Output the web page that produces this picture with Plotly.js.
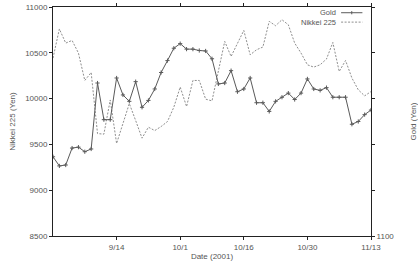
<!DOCTYPE html>
<html>
<head>
<meta charset="utf-8">
<script src="https://cdn.plot.ly/plotly-3.0.1.min.js"></script>
<style>html,body{margin:0;padding:0;background:#fff;}#chart{width:418px;height:261px;}</style>
</head>
<body>
<div id="chart"></div>
<script>
// Trading days (Tokyo), 2001
var tradingDays = ['8/31','9/3','9/4','9/5','9/6','9/7','9/10','9/11','9/12','9/13',
  '9/14','9/17','9/18','9/19','9/20','9/21','9/25','9/26','9/27','9/28',
  '10/1','10/2','10/3','10/4','10/5','10/9','10/10','10/11','10/12','10/15',
  '10/16','10/17','10/18','10/19','10/22','10/23','10/24','10/25','10/26','10/29',
  '10/30','10/31','11/1','11/2','11/5','11/6','11/7','11/8','11/9','11/12','11/13'];

var nikkei = [10442,10760,10606,10635,10497,10198,10285,9618,9612,9985,
  9510,9730,9946,9760,9568,9688,9651,9695,9750,9907,
  10126,9913,10198,10198,9994,9975,10300,10624,10460,10605,
  10744,10478,10533,10563,10843,10796,10861,10806,10606,10497,
  10369,10344,10369,10432,10613,10296,10416,10224,10096,10030,10077];

var gold = [1117.3,1115.3,1115.5,1119.2,1119.4,1118.4,1119.0,1133.4,1125.4,1125.4,
  1134.5,1130.8,1129.4,1133.7,1128.1,1129.6,1132.1,1135.7,1138.3,1141.0,
  1142.0,1140.8,1140.8,1140.5,1140.4,1138.7,1133.2,1133.4,1136.1,1131.5,
  1132.1,1134.5,1129.1,1129.1,1127.2,1129.4,1130.3,1131.2,1129.8,1131.2,
  1134.3,1132.1,1131.8,1132.4,1130.3,1130.3,1130.3,1124.4,1125.0,1126.5,1127.5];

var xTickDays = ['9/14','10/1','10/16','10/30','11/13'];
var nikkeiTicks = [8500,9000,9500,10000,10500,11000];
var nikkeiTickText = ['8500','9000','9500','10000','10500','11000'];
var goldTicks = [1100,1110,1120,1130,1140,1150];
var goldTickText = ['1100','','','','',''];

var seriesNames = ['Gold','Nikkei 225'];

var txt = '#555555';
var axc = '#222222';
var fnt = {family:'Liberation Sans, Arial, sans-serif', size:8, color:txt};
var lfnt = {family:'Liberation Sans, Arial, sans-serif', size:7.5, color:txt};
var goldColor = '#5a5a5a';
var nikColor = '#8e8e8e';

var traces = [
  {x: tradingDays, y: gold, yaxis:'y2', name: seriesNames[0], type:'scatter', mode:'lines+markers',
   line:{color:goldColor, width:1},
   marker:{symbol:'cross-thin', size:3, line:{color:goldColor, width:1}}, showlegend:false},
  {x: tradingDays, y: nikkei, name: seriesNames[1], type:'scatter', mode:'lines',
   line:{color:nikColor, width:1, dash:'2px,1.5px'}, showlegend:false}
];

var lx0 = 0.906, lx1 = 0.973;
var gy = 0.975, ny = 0.934;
var layout = {
  width:418, height:261,
  margin:{l:53, r:47, t:7, b:25, pad:0},
  paper_bgcolor:'#ffffff', plot_bgcolor:'#ffffff',
  font: fnt,
  showlegend:false,
  xaxis:{type:'category', categoryorder:'array', categoryarray: tradingDays,
    range:[0, tradingDays.length-1], tickvals: xTickDays, ticktext: xTickDays,
    showgrid:false, zeroline:false, showline:true, linecolor:axc, linewidth:1,
    mirror:'ticks', ticks:'outside', ticklen:3, tickcolor:axc, tickfont:fnt,
    title:{text:'Date (2001)', font:fnt, standoff:2}},
  yaxis:{range:[8500,11000], tickvals: nikkeiTicks, ticktext: nikkeiTickText,
    showgrid:false, zeroline:false,
    showline:true, linecolor:axc, linewidth:1, mirror:true,
    ticks:'outside', ticklen:3, tickcolor:axc, tickfont:fnt,
    title:{text:'Nikkei 225 (Yen)', font:fnt, standoff:8}},
  yaxis2:{range:[1100,1150], overlaying:'y', side:'right', tickvals: goldTicks, ticktext: goldTickText,
    showgrid:false, zeroline:false, showline:true, linecolor:axc, linewidth:1,
    ticks:'outside', ticklen:3, tickcolor:axc, tickfont:fnt,
    title:{text:'Gold (Yen)', font:fnt, standoff:18}},
  annotations:[
    {xref:'paper', yref:'paper', x:0.894, y:gy, xanchor:'right', yanchor:'middle',
     text: seriesNames[0], showarrow:false, font:lfnt, borderpad:0},
    {xref:'paper', yref:'paper', x:0.894, y:ny, xanchor:'right', yanchor:'middle',
     text: seriesNames[1], showarrow:false, font:lfnt, borderpad:0}
  ],
  shapes:[
    {type:'line', xref:'paper', yref:'paper', x0:lx0, x1:lx1, y0:gy, y1:gy,
     line:{color:goldColor, width:1}},
    {type:'line', xref:'paper', yref:'paper', x0:(lx0+lx1)/2, x1:(lx0+lx1)/2, y0:gy-0.007, y1:gy+0.007,
     line:{color:goldColor, width:1}},
    {type:'line', xref:'paper', yref:'paper', x0:lx0, x1:lx1, y0:ny, y1:ny,
     line:{color:nikColor, width:1, dash:'2px,1.5px'}}
  ]
};

Plotly.newPlot('chart', traces, layout, {staticPlot:true, displayModeBar:false});
</script>
</body>
</html>
